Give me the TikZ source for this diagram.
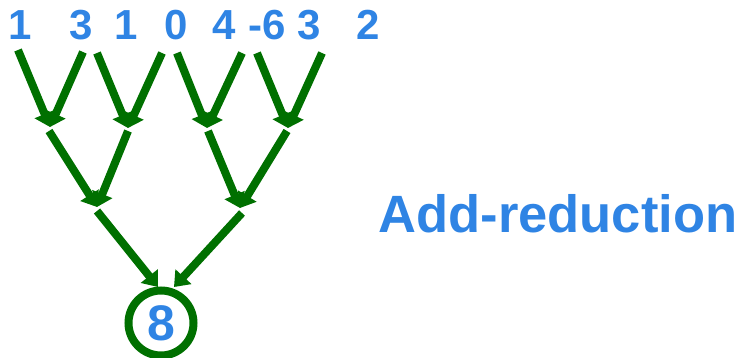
\documentclass[tikz,border=0pt]{standalone}
\usepackage{fontspec}
\setmainfont{Liberation Sans}
\usetikzlibrary{arrows.meta}
\definecolor{numblue}{HTML}{2F84E4}
\definecolor{arrgreen}{HTML}{007000}
\begin{document}
\begin{tikzpicture}[x=1pt,y=-1pt,
  num/.style={text=numblue,font=\fontsize{42}{42}\selectfont\bfseries,inner sep=0pt,anchor=base},
  arr/.style={draw=arrgreen,line width=8pt,-{Triangle[width=21pt,length=14pt]}},
  res/.style={circle,draw=arrgreen,line width=8pt,minimum size=65pt,inner sep=0pt,text=numblue,font=\fontsize{50}{50}\selectfont\bfseries}]
\useasboundingbox (0,0) rectangle (743,358);
% numbers
\node[num] (v1) at (20,40) {1};
\node[num] (v2) at (81,40) {3};
\node[num] (v3) at (126,40) {1};
\node[num] (v4) at (176,40) {0};
\node[num] (v5) at (224,40) {4};
\node[num] (v6) at (267,40) {-6};
\node[num] (v7) at (309,40) {3};
\node[num] (v8) at (368,40) {2};
% result
\node[res] (r) at (161,323) {8};
\node[text=numblue,font=\fontsize{52.5}{52.5}\selectfont\bfseries,inner sep=0pt,anchor=base] (t) at (558,232) {Add-reduction};
% coordinates
\coordinate (a1) at (18,50);
\coordinate (a2) at (83,52);
\coordinate (a3) at (97,53);
\coordinate (a4) at (162,53);
\coordinate (a5) at (177,53);
\coordinate (a6) at (242,53);
\coordinate (a7) at (257,53);
\coordinate (a8) at (322,53);
\coordinate (m1) at (50,127);
\coordinate (m2) at (128,128);
\coordinate (m3) at (207,128);
\coordinate (m4) at (288,128);
\coordinate (b1) at (49,131);
\coordinate (b2) at (128,131);
\coordinate (b3) at (208,131);
\coordinate (b4) at (287,131);
\coordinate (n1) at (97,207);
\coordinate (n2) at (240,208);
\coordinate (c1) at (97,211);
\coordinate (c2) at (242,213);
\coordinate (t1) at (158,287);
\coordinate (t2) at (174,287);
% arrows
\draw[arr] (a1) -- (m1);
\draw[arr] (a2) -- (m1);
\draw[arr] (a3) -- (m2);
\draw[arr] (a4) -- (m2);
\draw[arr] (a5) -- (m3);
\draw[arr] (a6) -- (m3);
\draw[arr] (a7) -- (m4);
\draw[arr] (a8) -- (m4);
\draw[arr] (b1) -- (n1);
\draw[arr] (b2) -- (n1);
\draw[arr] (b3) -- (n2);
\draw[arr] (b4) -- (n2);
\draw[arr] (c1) -- (t1);
\draw[arr] (c2) -- (t2);
\end{tikzpicture}
\end{document}
